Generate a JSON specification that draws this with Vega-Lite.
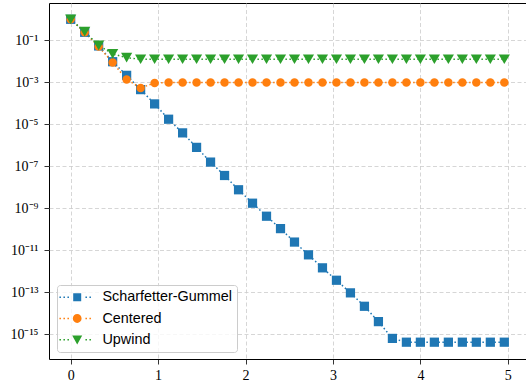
{
  "$schema": "https://vega.github.io/schema/vega-lite/v6.json",
  "width": 477,
  "height": 356,
  "autosize": "none",
  "padding": {"left": 49, "top": 3, "right": 0, "bottom": 27},
  "background": "white",
  "config": {
    "view": {"stroke": "#000000", "strokeWidth": 1},
    "axis": {
      "labelFont": "Liberation Serif",
      "labelFontSize": 14,
      "labelColor": "#000000",
      "tickColor": "#000000",
      "tickSize": 5,
      "tickWidth": 0.8,
      "domain": false,
      "grid": true,
      "gridColor": "#cccccc",
      "gridDash": [4, 2.5],
      "gridWidth": 0.8,
      "labelPadding": 4,
      "title": null
    },
    "legend": {
      "orient": "none",
      "legendX": 8,
      "legendY": 282,
      "direction": "vertical",
      "fillColor": "rgba(255,255,255,0.8)",
      "strokeColor": "#cccccc",
      "cornerRadius": 3,
      "padding": 5,
      "labelFont": "Liberation Sans",
      "labelFontSize": 14.4,
      "labelColor": "#000000",
      "symbolSize": 64,
      "symbolOffset": 8,
      "labelOffset": 18,
      "rowPadding": 6.3,
      "symbolStrokeWidth": 0,
      "symbolOpacity": 1
    }
  },
  "data": {
    "values": [
      {"s": "Scharfetter-Gummel", "x": 0, "y": 1},
      {"s": "Scharfetter-Gummel", "x": 0.16, "y": 0.24},
      {"s": "Scharfetter-Gummel", "x": 0.32, "y": 0.0537},
      {"s": "Scharfetter-Gummel", "x": 0.48, "y": 0.00955},
      {"s": "Scharfetter-Gummel", "x": 0.64, "y": 0.00214},
      {"s": "Scharfetter-Gummel", "x": 0.8, "y": 4.47e-4},
      {"s": "Scharfetter-Gummel", "x": 0.96, "y": 9.33e-5},
      {"s": "Scharfetter-Gummel", "x": 1.12, "y": 1.74e-5},
      {"s": "Scharfetter-Gummel", "x": 1.28, "y": 3.89e-6},
      {"s": "Scharfetter-Gummel", "x": 1.44, "y": 7.94e-7},
      {"s": "Scharfetter-Gummel", "x": 1.6, "y": 1.58e-7},
      {"s": "Scharfetter-Gummel", "x": 1.76, "y": 3.63e-8},
      {"s": "Scharfetter-Gummel", "x": 1.92, "y": 7.59e-9},
      {"s": "Scharfetter-Gummel", "x": 2.08, "y": 1.74e-9},
      {"s": "Scharfetter-Gummel", "x": 2.24, "y": 4.17e-10},
      {"s": "Scharfetter-Gummel", "x": 2.4, "y": 1.07e-10},
      {"s": "Scharfetter-Gummel", "x": 2.56, "y": 2.45e-11},
      {"s": "Scharfetter-Gummel", "x": 2.72, "y": 6.03e-12},
      {"s": "Scharfetter-Gummel", "x": 2.88, "y": 1.45e-12},
      {"s": "Scharfetter-Gummel", "x": 3.04, "y": 3.72e-13},
      {"s": "Scharfetter-Gummel", "x": 3.2, "y": 9.33e-14},
      {"s": "Scharfetter-Gummel", "x": 3.36, "y": 2.14e-14},
      {"s": "Scharfetter-Gummel", "x": 3.52, "y": 3.98e-15},
      {"s": "Scharfetter-Gummel", "x": 3.68, "y": 6.31e-16},
      {"s": "Scharfetter-Gummel", "x": 3.84, "y": 4.17e-16},
      {"s": "Scharfetter-Gummel", "x": 4.0, "y": 4.17e-16},
      {"s": "Scharfetter-Gummel", "x": 4.16, "y": 4.17e-16},
      {"s": "Scharfetter-Gummel", "x": 4.32, "y": 4.17e-16},
      {"s": "Scharfetter-Gummel", "x": 4.48, "y": 4.17e-16},
      {"s": "Scharfetter-Gummel", "x": 4.64, "y": 4.17e-16},
      {"s": "Scharfetter-Gummel", "x": 4.8, "y": 4.17e-16},
      {"s": "Scharfetter-Gummel", "x": 4.96, "y": 4.17e-16},
      {"s": "Centered", "x": 0, "y": 1},
      {"s": "Centered", "x": 0.16, "y": 0.24},
      {"s": "Centered", "x": 0.32, "y": 0.05},
      {"s": "Centered", "x": 0.48, "y": 0.0087},
      {"s": "Centered", "x": 0.64, "y": 0.00135},
      {"s": "Centered", "x": 0.8, "y": 5.4e-4},
      {"s": "Centered", "x": 0.96, "y": 9.3e-4},
      {"s": "Centered", "x": 1.12, "y": 9.8e-4},
      {"s": "Centered", "x": 1.28, "y": 9.8e-4},
      {"s": "Centered", "x": 1.44, "y": 9.8e-4},
      {"s": "Centered", "x": 1.6, "y": 9.8e-4},
      {"s": "Centered", "x": 1.76, "y": 9.8e-4},
      {"s": "Centered", "x": 1.92, "y": 9.8e-4},
      {"s": "Centered", "x": 2.08, "y": 9.8e-4},
      {"s": "Centered", "x": 2.24, "y": 9.8e-4},
      {"s": "Centered", "x": 2.4, "y": 9.8e-4},
      {"s": "Centered", "x": 2.56, "y": 9.8e-4},
      {"s": "Centered", "x": 2.72, "y": 9.8e-4},
      {"s": "Centered", "x": 2.88, "y": 9.8e-4},
      {"s": "Centered", "x": 3.04, "y": 9.8e-4},
      {"s": "Centered", "x": 3.2, "y": 9.8e-4},
      {"s": "Centered", "x": 3.36, "y": 9.8e-4},
      {"s": "Centered", "x": 3.52, "y": 9.8e-4},
      {"s": "Centered", "x": 3.68, "y": 9.8e-4},
      {"s": "Centered", "x": 3.84, "y": 9.8e-4},
      {"s": "Centered", "x": 4.0, "y": 9.8e-4},
      {"s": "Centered", "x": 4.16, "y": 9.8e-4},
      {"s": "Centered", "x": 4.32, "y": 9.8e-4},
      {"s": "Centered", "x": 4.48, "y": 9.8e-4},
      {"s": "Centered", "x": 4.64, "y": 9.8e-4},
      {"s": "Centered", "x": 4.8, "y": 9.8e-4},
      {"s": "Centered", "x": 4.96, "y": 9.8e-4},
      {"s": "Upwind", "x": 0, "y": 1},
      {"s": "Upwind", "x": 0.16, "y": 0.257},
      {"s": "Upwind", "x": 0.32, "y": 0.0575},
      {"s": "Upwind", "x": 0.48, "y": 0.0224},
      {"s": "Upwind", "x": 0.64, "y": 0.0148},
      {"s": "Upwind", "x": 0.8, "y": 0.0125},
      {"s": "Upwind", "x": 0.96, "y": 0.0125},
      {"s": "Upwind", "x": 1.12, "y": 0.0125},
      {"s": "Upwind", "x": 1.28, "y": 0.0125},
      {"s": "Upwind", "x": 1.44, "y": 0.0125},
      {"s": "Upwind", "x": 1.6, "y": 0.0125},
      {"s": "Upwind", "x": 1.76, "y": 0.0125},
      {"s": "Upwind", "x": 1.92, "y": 0.0125},
      {"s": "Upwind", "x": 2.08, "y": 0.0125},
      {"s": "Upwind", "x": 2.24, "y": 0.0125},
      {"s": "Upwind", "x": 2.4, "y": 0.0125},
      {"s": "Upwind", "x": 2.56, "y": 0.0125},
      {"s": "Upwind", "x": 2.72, "y": 0.0125},
      {"s": "Upwind", "x": 2.88, "y": 0.0125},
      {"s": "Upwind", "x": 3.04, "y": 0.0125},
      {"s": "Upwind", "x": 3.2, "y": 0.0125},
      {"s": "Upwind", "x": 3.36, "y": 0.0125},
      {"s": "Upwind", "x": 3.52, "y": 0.0125},
      {"s": "Upwind", "x": 3.68, "y": 0.0125},
      {"s": "Upwind", "x": 3.84, "y": 0.0125},
      {"s": "Upwind", "x": 4.0, "y": 0.0125},
      {"s": "Upwind", "x": 4.16, "y": 0.0125},
      {"s": "Upwind", "x": 4.32, "y": 0.0125},
      {"s": "Upwind", "x": 4.48, "y": 0.0125},
      {"s": "Upwind", "x": 4.64, "y": 0.0125},
      {"s": "Upwind", "x": 4.8, "y": 0.0125},
      {"s": "Upwind", "x": 4.96, "y": 0.0125}
    ]
  },
  "encoding": {
    "x": {
      "field": "x",
      "type": "quantitative",
      "scale": {"domain": [-0.248, 5.208], "nice": false, "zero": false},
      "axis": {"values": [0, 1, 2, 3, 4, 5], "format": "d", "labelFlush": false}
    },
    "y": {
      "field": "y",
      "type": "quantitative",
      "scale": {"type": "log", "domain": [6.6e-17, 5.97], "nice": false},
      "axis": {
        "values": [0.1, 0.001, 1e-5, 1e-7, 1e-9, 1e-11, 1e-13, 1e-15],
        "labelPadding": 6,
        "labelExpr": "'10⁻' + replace(replace(replace(replace(replace(format(-round(log(datum.value)/LN10),'d'), regexp('1','g'),'¹'), regexp('3','g'),'³'), regexp('5','g'),'⁵'), regexp('7','g'),'⁷'), regexp('9','g'),'⁹')"
      }
    },
    "color": {
      "field": "s",
      "type": "nominal",
      "scale": {"domain": ["Scharfetter-Gummel", "Centered", "Upwind"], "range": ["#1f77b4", "#ff7f0e", "#2ca02c"]},
      "legend": {"title": null}
    }
  },
  "layer": [
    {
      "mark": {"type": "line", "strokeDash": [1.5, 2.5], "strokeWidth": 1.5}
    },
    {
      "transform": [{"filter": "datum.s === 'Scharfetter-Gummel'"}],
      "mark": {"type": "point", "filled": true, "opacity": 1, "shape": "square", "size": 85}
    },
    {
      "transform": [{"filter": "datum.s === 'Centered'"}],
      "mark": {"type": "point", "filled": true, "opacity": 1, "shape": "circle", "size": 72}
    },
    {
      "transform": [{"filter": "datum.s === 'Upwind'"}],
      "mark": {"type": "point", "filled": true, "opacity": 1, "shape": "triangle-down", "size": 125}
    },
    {
      "transform": [{"filter": "datum.x < -1"}],
      "mark": {"type": "point", "filled": true, "opacity": 1, "size": 64},
      "encoding": {
        "shape": {
          "field": "s",
          "type": "nominal",
          "scale": {
            "domain": ["Scharfetter-Gummel", "Centered", "Upwind"],
            "range": [
              "M-4.44,-0.19h0.38v0.38h-0.38zM-3.44,-0.19h0.38v0.38h-0.38zM-2.44,-0.19h0.38v0.38h-0.38zM2.06,-0.19h0.38v0.38h-0.38zM3.06,-0.19h0.38v0.38h-0.38zM-1,-1h2v2h-2z",
              "M-4.44,-0.19h0.38v0.38h-0.38zM-3.44,-0.19h0.38v0.38h-0.38zM-2.44,-0.19h0.38v0.38h-0.38zM2.06,-0.19h0.38v0.38h-0.38zM3.06,-0.19h0.38v0.38h-0.38zM-1.1,0a1.1,1.1 0 1,0 2.2,0a1.1,1.1 0 1,0 -2.2,0z",
              "M-4.44,-0.19h0.38v0.38h-0.38zM-3.44,-0.19h0.38v0.38h-0.38zM-2.44,-0.19h0.38v0.38h-0.38zM2.06,-0.19h0.38v0.38h-0.38zM3.06,-0.19h0.38v0.38h-0.38zM-1.25,-1.05L1.25,-1.05L0,1.15z"
            ]
          },
          "legend": {"title": null}
        }
      }
    }
  ]
}
